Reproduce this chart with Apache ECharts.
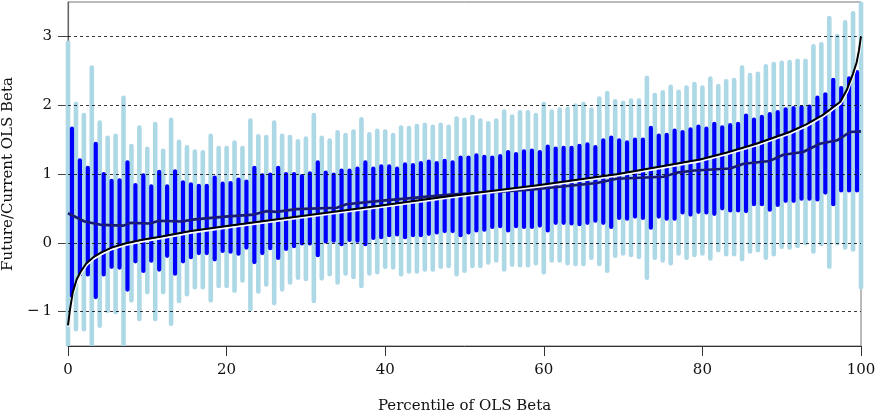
<!DOCTYPE html>
<html>
<head>
<meta charset="utf-8">
<script src="https://cdn.jsdelivr.net/npm/echarts@6/dist/echarts.min.js"></script>
<style>
  html, body { margin: 0; padding: 0; background: #fff; }
  #chart { width: 877px; height: 414px; }
</style>
</head>
<body>
<div id="chart"></div>
<script>
// Percentile positions: outer band at each whole percentile, inner band mid-bin.
const outerPct = Array.from({ length: 101 }, (_, i) => i);
const innerPct = Array.from({ length: 100 }, (_, i) => i + 0.5);

// Outer (light) band: lower and upper ends
const outerLow = [
  -1.60, -1.29, -1.29, -1.55, -1.24, -1.02, -1.04, -1.55, -0.87, -1.14,
  -0.75, -1.14, -0.75, -1.21, -0.88, -0.78, -0.68, -0.68, -0.87, -0.66,
  -0.66, -0.73, -0.58, -1.00, -0.74, -0.64, -0.91, -0.71, -0.61, -0.54,
  -0.56, -0.88, -0.55, -0.49, -0.61, -0.48, -0.53, -0.66, -0.48, -0.46,
  -0.38, -0.39, -0.49, -0.45, -0.45, -0.42, -0.42, -0.38, -0.37, -0.49,
  -0.44, -0.37, -0.37, -0.32, -0.29, -0.42, -0.35, -0.36, -0.36, -0.33,
  -0.46, -0.29, -0.29, -0.33, -0.34, -0.34, -0.25, -0.34, -0.44, -0.22,
  -0.19, -0.21, -0.24, -0.54, -0.25, -0.29, -0.33, -0.19, -0.25, -0.21,
  -0.19, -0.26, -0.14, -0.20, -0.20, -0.27, -0.16, -0.14, -0.25, -0.20,
  -0.09, -0.10, -0.08, -0.04, -0.16, -0.05, -0.38, -0.04, -0.10, -0.13,
  -0.68
];
const outerHigh = [
  2.94, 2.05, 1.89, 2.58, 1.78, 1.56, 1.59, 2.14, 1.44, 1.71,
  1.40, 1.76, 1.37, 1.82, 1.50, 1.42, 1.36, 1.35, 1.59, 1.41,
  1.41, 1.49, 1.41, 1.81, 1.58, 1.57, 1.78, 1.59, 1.57, 1.51,
  1.55, 1.89, 1.56, 1.52, 1.64, 1.60, 1.65, 1.83, 1.61, 1.66,
  1.65, 1.60, 1.71, 1.70, 1.73, 1.75, 1.72, 1.75, 1.72, 1.84,
  1.82, 1.86, 1.81, 1.77, 1.81, 1.94, 1.87, 1.93, 1.93, 1.89,
  2.05, 1.94, 1.97, 1.98, 2.03, 2.05, 1.97, 2.13, 2.21, 2.09,
  2.07, 2.10, 2.10, 2.43, 2.18, 2.22, 2.30, 2.23, 2.29, 2.34,
  2.29, 2.42, 2.31, 2.38, 2.40, 2.58, 2.47, 2.49, 2.60, 2.63,
  2.65, 2.66, 2.68, 2.68, 2.89, 2.92, 3.30, 3.04, 3.24, 3.37,
  3.60
];

// Inner (dark) band: lower and upper ends
const innerLow = [
  -0.80, -0.49, -0.49, -0.82, -0.49, -0.38, -0.39, -0.71, -0.30, -0.44,
  -0.29, -0.42, -0.22, -0.48, -0.30, -0.24, -0.18, -0.18, -0.27, -0.15,
  -0.16, -0.19, -0.10, -0.31, -0.18, -0.11, -0.25, -0.12, -0.08, -0.04,
  -0.04, -0.21, -0.01, 0.00, -0.05, 0.01, 0.00, -0.05, 0.04, 0.05,
  0.08, 0.09, 0.05, 0.08, 0.08, 0.10, 0.12, 0.14, 0.14, 0.08,
  0.12, 0.15, 0.16, 0.20, 0.21, 0.15, 0.21, 0.20, 0.20, 0.22,
  0.15, 0.26, 0.26, 0.25, 0.24, 0.26, 0.29, 0.26, 0.20, 0.33,
  0.32, 0.35, 0.33, 0.19, 0.35, 0.32, 0.32, 0.41, 0.38, 0.42,
  0.41, 0.39, 0.47, 0.44, 0.44, 0.43, 0.53, 0.53, 0.45, 0.52,
  0.58, 0.58, 0.61, 0.61, 0.60, 0.70, 0.53, 0.73, 0.73, 0.73
];
const innerHigh = [
  1.69, 1.23, 1.12, 1.47, 1.03, 0.93, 0.94, 1.20, 0.87, 1.01,
  0.85, 1.06, 0.85, 1.07, 0.91, 0.88, 0.86, 0.86, 0.98, 0.89,
  0.90, 0.95, 0.92, 1.12, 1.01, 1.02, 1.12, 1.03, 1.03, 1.00,
  1.04, 1.20, 1.05, 1.02, 1.08, 1.08, 1.11, 1.20, 1.11, 1.14,
  1.14, 1.11, 1.17, 1.16, 1.19, 1.21, 1.19, 1.22, 1.20, 1.27,
  1.27, 1.30, 1.28, 1.27, 1.29, 1.35, 1.32, 1.36, 1.37, 1.35,
  1.43, 1.40, 1.41, 1.41, 1.44, 1.46, 1.42, 1.52, 1.56, 1.52,
  1.49, 1.53, 1.53, 1.70, 1.59, 1.60, 1.66, 1.64, 1.68, 1.72,
  1.69, 1.76, 1.71, 1.74, 1.76, 1.88, 1.82, 1.86, 1.90, 1.93,
  1.97, 1.99, 2.00, 2.01, 2.14, 2.19, 2.40, 2.28, 2.42, 2.51
];

// Median future/current ratio by percentile
const medianX = [0, 2.1, 4.3, 7.0, 7.9, 10.3, 11.5, 14.3, 16.0, 19.8,
  23.4, 25.0, 26.3, 28.8, 33.9, 35.1, 39.3, 48.2, 58.3, 66.7,
  69.2, 75.1, 76.8, 79.0, 83.5, 85.2, 88.5, 90.2, 92.7, 94.8,
  97.0, 98.6, 100];
const medianY = [0.43, 0.31, 0.26, 0.25, 0.29, 0.28, 0.32, 0.31, 0.34, 0.38,
  0.41, 0.46, 0.45, 0.49, 0.51, 0.56, 0.61, 0.70, 0.77, 0.87,
  0.93, 0.96, 1.02, 1.05, 1.08, 1.15, 1.19, 1.28, 1.32, 1.44,
  1.49, 1.61, 1.62];

// Current OLS beta at each percentile
const currentX = [0, 0.25, 0.6, 1.1, 1.6, 2.3, 3.2, 4.2, 5.5, 7.2, 9.2, 11.8, 15.5, 19.8,
  29.5, 39.3, 48.2, 59.5, 69.4, 79.7, 83.0, 86.8, 91.0, 93.1, 95.2, 97.4,
  98.2, 99.0, 99.45, 99.75, 100];
const currentY = [-1.20, -0.97, -0.72, -0.53, -0.42, -0.30, -0.21, -0.14, -0.07, -0.01, 0.04, 0.09, 0.17, 0.24,
  0.39, 0.54, 0.68, 0.84, 1.00, 1.21, 1.31, 1.44, 1.61, 1.72, 1.86, 2.05,
  2.22, 2.46, 2.62, 2.80, 3.00];

const yTicks = [-1, 0, 1, 2, 3];
const yTickText = ['\u2212\u20091', '0', '1', '2', '3'];
const xTicks = [0, 20, 40, 60, 80, 100];

const FONT = 'DejaVu Serif';

// Vertical range bar with rounded ends, flattened where it runs off the plot
function rangeBar(color, width) {
  return function (params, api) {
    const x = api.value(0);
    const pLo = api.coord([x, api.value(1)]);
    const pHi = api.coord([x, api.value(2)]);
    const cs = params.coordSys;
    const r = width / 2;
    let yTop = pHi[1], yBot = pLo[1];
    const topCut = yTop < cs.y;
    const botCut = yBot > cs.y + cs.height;
    if (topCut) yTop = cs.y;
    if (botCut) yBot = cs.y + cs.height;
    return {
      type: 'rect',
      shape: {
        x: pHi[0] - r, y: yTop, width: width, height: yBot - yTop,
        r: [topCut ? 0 : r, topCut ? 0 : r, botCut ? 0 : r, botCut ? 0 : r]
      },
      style: { fill: color }
    };
  };
}

const chart = echarts.init(document.getElementById('chart'), null, { renderer: 'canvas' });

chart.setOption({
  animation: false,
  backgroundColor: '#fff',
  grid: {
    left: 68, right: 16, top: 2, bottom: 68,
    outerBoundsMode: 'none', containLabel: false,
    show: true, borderColor: '#777', borderWidth: 1, backgroundColor: 'transparent'
  },
  xAxis: {
    type: 'value', min: 0, max: 100, interval: 20,
    name: 'Percentile of OLS Beta', nameLocation: 'middle', nameGap: 53,
    nameTextStyle: { fontFamily: FONT, fontSize: 15, color: '#111' },
    axisLine: { show: true, onZero: false, lineStyle: { color: '#333', width: 1 } },
    axisTick: { show: true, inside: false, length: 10, lineStyle: { color: '#333' } },
    axisLabel: { fontFamily: FONT, fontSize: 15, color: '#111', margin: 17,
      customValues: xTicks },
    splitLine: { show: false }
  },
  yAxis: {
    type: 'value', min: -1.5, max: 3.5,
    name: 'Future/Current OLS Beta', nameLocation: 'middle', nameGap: 51,
    nameTextStyle: { fontFamily: FONT, fontSize: 15, color: '#111' },
    axisLine: { show: true, onZero: false, lineStyle: { color: '#666', width: 1.2 } },
    axisTick: { show: true, inside: false, length: 10, customValues: yTicks,
      lineStyle: { color: '#444' } },
    axisLabel: { fontFamily: FONT, fontSize: 15, color: '#111', margin: 16,
      customValues: yTicks,
      formatter: v => yTickText[yTicks.indexOf(v)] },
    splitLine: { show: false }
  },
  series: [
    {
      name: 'outer', type: 'custom', z: 2, clip: false,
      renderItem: rangeBar('#add8e6', 4.6),
      encode: { x: 0, y: [1, 2] },
      data: outerPct.map((p, i) => [p, outerLow[i], outerHigh[i]])
    },
    {
      name: 'inner', type: 'custom', z: 3, clip: false,
      renderItem: rangeBar('#0000ff', 4.2),
      encode: { x: 0, y: [1, 2] },
      data: innerPct.map((p, i) => [p, innerLow[i], innerHigh[i]])
    },
    {
      name: 'gridlines', type: 'line', z: 4, data: [],
      markLine: {
        silent: true, symbol: ['none', 'none'], animation: false,
        label: { show: false },
        lineStyle: { type: [3, 3], color: 'rgba(0,0,0,0.78)', width: 1 },
        data: yTicks.map(v => ({ yAxis: v }))
      }
    },
    {
      name: 'median', type: 'line', z: 5, symbol: 'none',
      data: medianX.map((x, i) => [x, medianY[i]]),
      lineStyle: { color: '#1a1a78', width: 2.6 }
    },
    {
      name: 'current', type: 'line', z: 6, symbol: 'none',
      smooth: false,
      data: currentX.map((x, i) => [x, currentY[i]]),
      lineStyle: {
        color: '#000', width: 2, join: 'round',
        shadowColor: '#fff', shadowBlur: 0, shadowOffsetX: 0.6, shadowOffsetY: 1.6
      }
    }
  ]
});
</script>
</body>
</html>
